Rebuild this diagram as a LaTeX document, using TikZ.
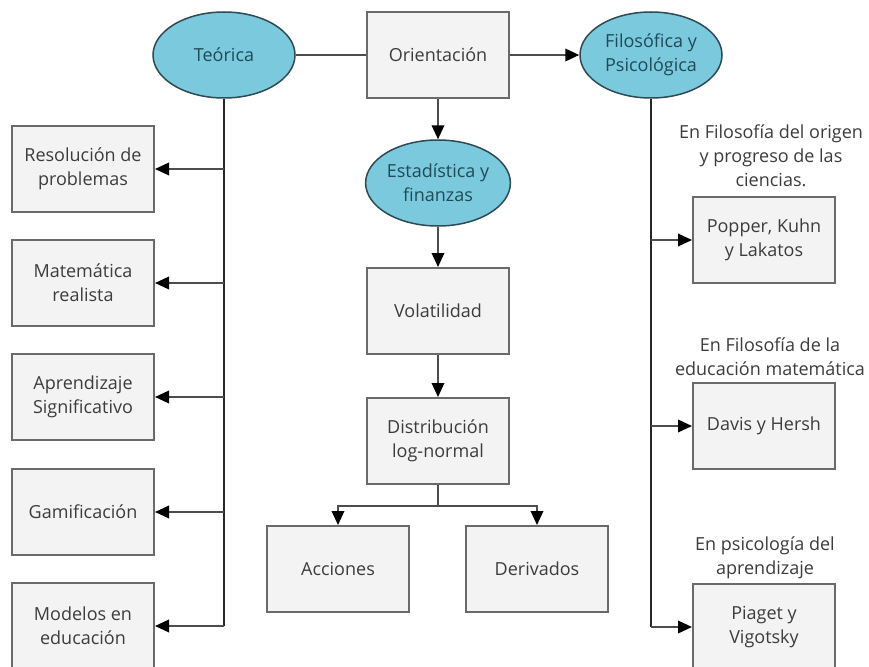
\documentclass[tikz,border=0pt]{standalone}
\usepackage{fontspec}
\setmainfont{Open Sans}
\usetikzlibrary{shapes.geometric,arrows.meta}
\definecolor{ovalfill}{HTML}{7BC9DC}
\definecolor{ovaldraw}{HTML}{2E4A53}
\definecolor{ovaltext}{HTML}{1E4B57}
\definecolor{boxfill}{HTML}{F3F3F3}
\definecolor{boxdraw}{HTML}{6A6A6A}
\definecolor{boxtext}{HTML}{3C3C3C}
\definecolor{linegray}{HTML}{4D4D4D}

\begin{document}
\begin{tikzpicture}[x=1pt,y=-1pt,
        font=\fontsize{18}{24}\selectfont,
        box/.style={draw=boxdraw,fill=boxfill,line width=2pt,text=boxtext,
            minimum width=142pt,minimum height=86pt,align=center,inner sep=0pt},
        oval/.style={ellipse,draw=ovaldraw,fill=ovalfill,line width=1.5pt,text=ovaltext,
            minimum width=142pt,minimum height=86pt,align=center,inner sep=0pt},
        note/.style={text=boxtext,align=center,inner sep=0pt},
        conn/.style={draw=linegray,line width=2pt},
        trunk/.style={draw=black!85,line width=2.5pt},
        arr/.style={-{Triangle[length=14pt,width=12.5pt,color=black]}}]
            \useasboundingbox[fill=white] (0,0) rectangle (869,666);
            %Top row
            \node[oval] (teo) at (224,55) {Teórica};
            \node[box]  (ori) at (438,55) {Orientación};
            \node[oval] (fil) at (651,55) {Filosófica y\\Psicológica};
            %Left column
            \node[box] (res) at (83,169) {Resolución de\\problemas};
            \node[box] (mat) at (83,283) {Matemática\\realista};
            \node[box] (apr) at (83,397) {Aprendizaje\\Significativo};
            \node[box] (gam) at (83,512) {Gamificación};
            \node[box] (mod) at (83,626) {Modelos en\\educación};
            %Center column
            \node[oval] (est) at (438,183) {Estadística y\\finanzas};
            \node[box]  (vol) at (438,311) {Volatilidad};
            \node[box]  (dis) at (438,441) {Distribución\\log-normal};
            \node[box]  (acc) at (338,569) {Acciones};
            \node[box]  (der) at (537,569) {Derivados};
            %Right column
            \node[note] (nt1) at (771,156) {En Filosofía del origen\\y progreso de las\\ciencias.};
            \node[box]  (pop) at (764,240) {Popper, Kuhn\\y Lakatos};
            \node[note] (nt2) at (770,357) {En Filosofía de la\\educación matemática};
            \node[box]  (dav) at (764,426) {Davis y Hersh};
            \node[note] (nt3) at (765,558) {En psicología del\\aprendizaje};
            \node[box]  (pia) at (764,627) {Piaget y\\Vigotsky};
            %Connectors
            \draw[conn] (teo) -- (ori);
            \draw[conn,arr] (ori) -- (fil);
            \draw[conn,arr] (ori) -- (est);
            \draw[conn,arr] (est) -- (vol);
            \draw[conn,arr] (vol) -- (dis);
            \draw[conn] (dis.south) -- ++(0,21) coordinate (split);
            \draw[conn,arr] (split) -| (acc.north);
            \draw[conn,arr] (split) -| (der.north);
            \draw[trunk] (teo.south) -- (teo.south |- mod.east);
            \foreach \b in {res,mat,apr,gam,mod}
                \draw[conn,arr] (teo.south |- \b.east) -- (\b.east);
            \draw[trunk] (fil.south) -- (fil.south |- pia.west);
            \foreach \b in {pop,dav,pia}
                \draw[conn,arr] (fil.south |- \b.west) -- (\b.west);
        \end{tikzpicture}
\end{document}
